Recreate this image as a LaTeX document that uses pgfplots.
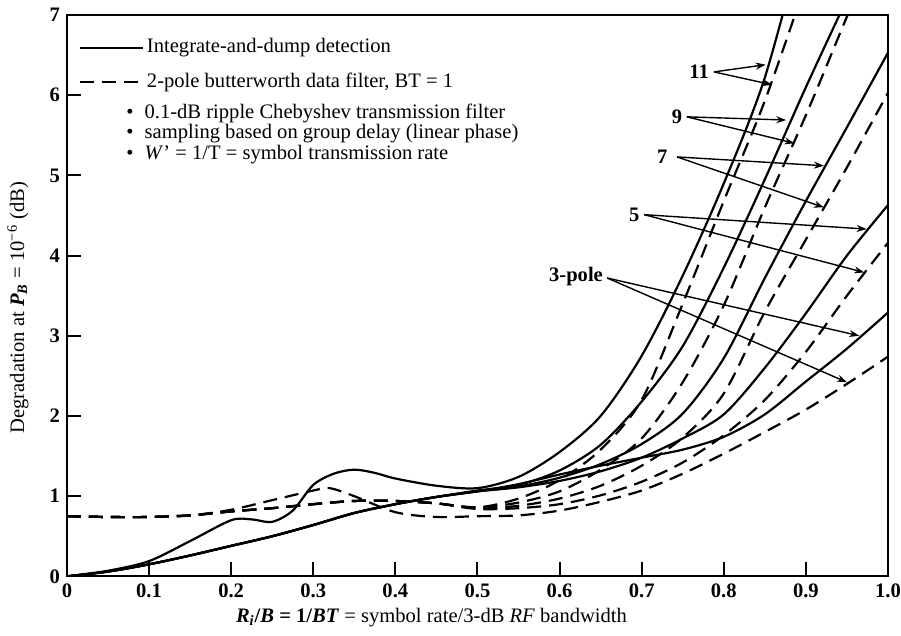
\documentclass[border=0pt]{standalone}
\usepackage{fontspec}
\setmainfont{Liberation Serif}
\usepackage{pgfplots}
\pgfplotsset{compat=1.18}
\usetikzlibrary{arrows.meta}

\begin{document}
\begin{tikzpicture}[font=\fontsize{10.3}{12}\selectfont]
\useasboundingbox (-33.5pt,-29.5pt) rectangle (417.5pt,288.5pt);
\begin{axis}[
  at={(0,0)}, anchor=south west,
  scale only axis, width=411pt, height=281pt,
  xmin=0, xmax=1, ymin=0, ymax=7,
  xtick={0,0.1,0.2,0.3,0.4,0.5,0.6,0.7,0.8,0.9,1},
  xticklabels={0,0.1,0.2,0.3,0.4,0.5,0.6,0.7,0.8,0.9,1.0},
  ytick={0,1,2,3,4,5,6,7},
  yticklabels={0,1,2,3,4,5,6,7},
  tick align=inside, xtick pos=left, ytick pos=left,
  major tick length=7pt,
  tick style={line width=1pt, black},
  axis line style={line width=1.1pt},
  ticklabel style={font=\fontsize{10.3}{12}\selectfont\bfseries},
  clip mode=individual,
  sol/.style={line width=1.1pt, black, solid, smooth, tension=0.5, no markers},
  dsh/.style={line width=1.1pt, black, smooth, tension=0.5, no markers, dash pattern=on 7pt off 4pt},
]
% ---- solid: integrate-and-dump ----
% 11-pole
\addplot[sol] coordinates {(0,0) (0.05,0.07) (0.1,0.19) (0.15,0.44) (0.2,0.70) (0.225,0.71) (0.25,0.68) (0.275,0.82) (0.3,1.14) (0.325,1.28) (0.35,1.33) (0.375,1.29) (0.4,1.22) (0.45,1.13) (0.5,1.10) (0.55,1.24) (0.6,1.55) (0.65,2.0) (0.7,2.75) (0.75,3.75) (0.8,4.9) (0.85,6.22) (0.9,8.1)};
% 9-pole
\addplot[sol] coordinates {(0,0) (0.05,0.06) (0.1,0.15) (0.15,0.26) (0.2,0.38) (0.25,0.5) (0.3,0.64) (0.35,0.79) (0.4,0.9) (0.45,0.99) (0.5,1.07) (0.55,1.14) (0.6,1.32) (0.65,1.64) (0.7,2.18) (0.75,2.87) (0.8,3.85) (0.85,4.95) (0.9,6.1) (0.95,7.2)};
% 7-pole
\addplot[sol] coordinates {(0,0) (0.05,0.06) (0.1,0.15) (0.15,0.26) (0.2,0.38) (0.25,0.5) (0.3,0.64) (0.35,0.79) (0.4,0.9) (0.45,0.99) (0.5,1.06) (0.55,1.12) (0.6,1.23) (0.65,1.4) (0.7,1.65) (0.75,2.03) (0.8,2.72) (0.85,3.72) (0.9,4.68) (0.95,5.6) (1.0,6.53)};
% 5-pole
\addplot[sol] coordinates {(0,0) (0.05,0.06) (0.1,0.15) (0.15,0.26) (0.2,0.38) (0.25,0.5) (0.3,0.64) (0.35,0.79) (0.4,0.9) (0.45,0.99) (0.5,1.06) (0.55,1.11) (0.6,1.19) (0.65,1.31) (0.7,1.48) (0.75,1.72) (0.8,2.02) (0.85,2.6) (0.9,3.28) (0.95,4.0) (1.0,4.63)};
% 3-pole
\addplot[sol] coordinates {(0,0) (0.05,0.06) (0.1,0.15) (0.15,0.26) (0.2,0.38) (0.25,0.5) (0.3,0.64) (0.35,0.79) (0.4,0.9) (0.45,0.99) (0.5,1.06) (0.55,1.15) (0.6,1.27) (0.65,1.38) (0.7,1.48) (0.75,1.58) (0.8,1.74) (0.85,2.02) (0.9,2.43) (0.95,2.84) (1.0,3.29)};
% ---- dashed: 2-pole Butterworth data filter ----
% 11-pole
\addplot[dsh] coordinates {(0,0.75) (0.05,0.74) (0.1,0.74) (0.15,0.76) (0.2,0.81) (0.25,0.85) (0.3,0.9) (0.35,0.94) (0.4,0.94) (0.45,0.91) (0.5,0.86) (0.55,0.97) (0.6,1.2) (0.65,1.58) (0.7,2.2) (0.75,3.4) (0.8,4.68) (0.85,5.93) (0.9,7.4)};
% 9-pole
\addplot[dsh] coordinates {(0,0.75) (0.05,0.74) (0.1,0.74) (0.15,0.76) (0.2,0.81) (0.25,0.85) (0.3,0.9) (0.35,0.94) (0.4,0.94) (0.45,0.91) (0.5,0.86) (0.55,0.92) (0.6,1.06) (0.65,1.33) (0.7,1.72) (0.75,2.42) (0.8,3.38) (0.85,4.6) (0.9,5.75) (0.95,6.98) (1.0,8.2)};
% 7-pole
\addplot[dsh] coordinates {(0,0.75) (0.05,0.74) (0.1,0.74) (0.15,0.76) (0.2,0.81) (0.25,0.85) (0.3,0.9) (0.35,0.94) (0.4,0.94) (0.45,0.91) (0.5,0.85) (0.55,0.88) (0.6,0.97) (0.65,1.13) (0.7,1.38) (0.75,1.73) (0.8,2.28) (0.85,3.3) (0.9,4.2) (0.95,5.1) (1.0,6.03)};
% 5-pole
\addplot[dsh] coordinates {(0,0.75) (0.05,0.74) (0.1,0.74) (0.15,0.76) (0.2,0.81) (0.25,0.85) (0.3,0.9) (0.35,0.94) (0.4,0.94) (0.45,0.91) (0.5,0.84) (0.55,0.85) (0.6,0.9) (0.65,1.01) (0.7,1.18) (0.75,1.42) (0.8,1.76) (0.85,2.2) (0.9,2.8) (0.95,3.5) (1.0,4.16)};
% 3-pole
\addplot[dsh] coordinates {(0,0.75) (0.05,0.74) (0.1,0.74) (0.15,0.76) (0.2,0.83) (0.25,0.95) (0.3,1.07) (0.32,1.1) (0.35,1.0) (0.4,0.8) (0.45,0.74) (0.5,0.75) (0.55,0.76) (0.6,0.82) (0.65,0.93) (0.7,1.07) (0.75,1.28) (0.8,1.53) (0.85,1.8) (0.9,2.08) (0.95,2.4) (1.0,2.74)};

% ---- legend ----
\draw[line width=1pt] (axis cs:0.016,6.59) -- (axis cs:0.0925,6.59);
\node[anchor=west, inner sep=0pt] at (axis cs:0.097,6.59) {Integrate-and-dump detection};
\draw[line width=1pt, dash pattern=on 7pt off 4pt] (axis cs:0.016,6.16) -- (axis cs:0.0925,6.16);
\node[anchor=west, inner sep=0pt] at (axis cs:0.097,6.16) {2-pole butterworth data filter, BT = 1};
\node[anchor=north west, align=left, inner sep=0pt, font=\fontsize{10.3}{8.3}\selectfont] at (axis cs:0.072,5.9)
  {•\hspace{5.5pt}0.1-dB ripple Chebyshev transmission filter\\
   •\hspace{5.5pt}sampling based on group delay (linear phase)\\
   •\hspace{5.5pt}\textit{W}’ = 1/T = symbol transmission rate};

% ---- curve labels ----
\tikzset{lab/.style={line width=0.7pt, -{Stealth[length=5pt,width=3.5pt]}}}
\node[font=\fontsize{10.3}{12}\selectfont\bfseries] at (axis cs:0.770,6.29) {11};
\draw[lab] (axis cs:0.788,6.29) -- (axis cs:0.851,6.38);
\draw[lab] (axis cs:0.788,6.29) -- (axis cs:0.859,6.13);
\node[font=\fontsize{10.3}{12}\selectfont\bfseries] at (axis cs:0.743,5.73) {9};
\draw[lab] (axis cs:0.755,5.73) -- (axis cs:0.876,5.69);
\draw[lab] (axis cs:0.755,5.73) -- (axis cs:0.886,5.40);
\node[font=\fontsize{10.3}{12}\selectfont\bfseries] at (axis cs:0.725,5.23) {7};
\draw[lab] (axis cs:0.743,5.23) -- (axis cs:0.922,5.12);
\draw[lab] (axis cs:0.743,5.23) -- (axis cs:0.922,4.60);
\node[font=\fontsize{10.3}{12}\selectfont\bfseries] at (axis cs:0.691,4.51) {5};
\draw[lab] (axis cs:0.703,4.51) -- (axis cs:0.974,4.33);
\draw[lab] (axis cs:0.703,4.51) -- (axis cs:0.971,3.79);
\node[font=\fontsize{10.3}{12}\selectfont\bfseries] at (axis cs:0.620,3.74) {3-pole};
\draw[lab] (axis cs:0.658,3.72) -- (axis cs:0.965,3.00);
\draw[lab] (axis cs:0.658,3.72) -- (axis cs:0.950,2.42);

% ---- axis labels ----
\node[rotate=90] at (axis cs:-0.0596,3.35) {Degradation at \textbf{\textit{P\textsubscript{B}}} = 10\textsuperscript{−6} (dB)};
\node at (axis cs:0.444,-0.51) {\textbf{\textit{R\textsubscript{i}}/\textit{B} = 1/\textit{BT}} = symbol rate/3-dB \textit{RF} bandwidth};
\end{axis}
\end{tikzpicture}
\end{document}
